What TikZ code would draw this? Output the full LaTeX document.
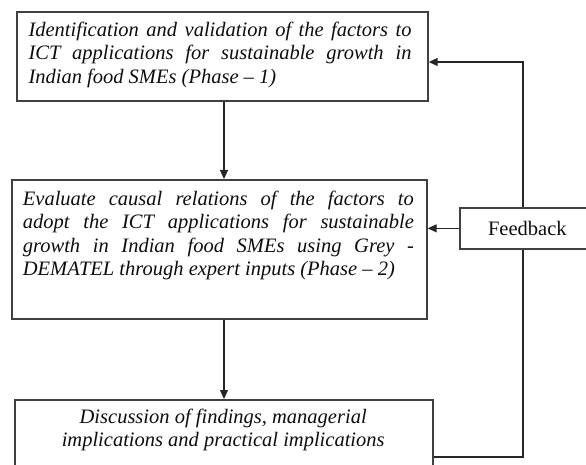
\documentclass[tikz,border=0pt]{standalone}
\usepackage{fontspec}
\setmainfont{Liberation Serif}
\usetikzlibrary{arrows.meta}
\newcommand\jl[1]{\makebox[\linewidth][s]{#1}}
\begin{document}
\begin{tikzpicture}[x=1pt,y=-1pt,
  boxst/.style={draw=black!75, line width=1.7pt, rectangle, inner sep=0pt, anchor=north west},
  txt/.style={inner sep=0pt, anchor=base west, font=\fontsize{20.5}{23.3}\selectfont\itshape, text=black!95},
  conn/.style={draw=black!85, line width=1.2pt},
  arr/.style={conn, -{Triangle[length=9pt,width=8pt]}}]
\useasboundingbox (0,0) rectangle (586,465);
\clip (0,0) rectangle (586,465);
% boxes
\node[boxst, minimum width=411pt, minimum height=89pt] (b1) at (16,11) {};
\node[boxst, minimum width=415pt, minimum height=139pt] (b2) at (11,179) {};
\node[boxst, minimum width=418pt, minimum height=90pt] (b3) at (14,399) {};
\node[boxst, minimum width=135pt, minimum height=41pt, font=\fontsize{20.5}{24}\selectfont, text=black!95] (fb) at (459,207) {Feedback};
% texts
\node[txt] (t1) at (28.3,36.7) {\parbox[t]{383pt}{\jl{Identification and validation of the factors to}\par
\jl{ICT applications for sustainable growth in}\par
Indian food SMEs (Phase -- 1)}};
\node[txt] (t2) at (22.7,205.7) {\parbox[t]{391pt}{\jl{Evaluate causal relations of the factors to}\par
\jl{adopt the ICT applications for sustainable}\par
\jl{growth in Indian food SMEs using Grey -}\par
DEMATEL through expert inputs (Phase -- 2)}};
\node[txt] (t3) at (14,423) {\parbox[t]{418pt}{\centering Discussion of findings, managerial\par
implications and practical implications}};
% helper coordinates
\coordinate (ax) at (224,0);
\coordinate (fl) at (523,457);
\coordinate (fy) at (0,62);
% connectors
\draw[arr] (b1.south -| ax) -- (b2.north -| ax);
\draw[arr] (b2.south -| ax) -- (b3.north -| ax);
\draw[conn] (fl -| b3.east) -- (fl) -- (fb.south -| fl);
\draw[arr] (fb.north -| fl) -- (fl |- fy) -- (b1.east |- fy);
\draw[arr] (fb.west) -- (b2.east |- fb.west);
\end{tikzpicture}
\end{document}
